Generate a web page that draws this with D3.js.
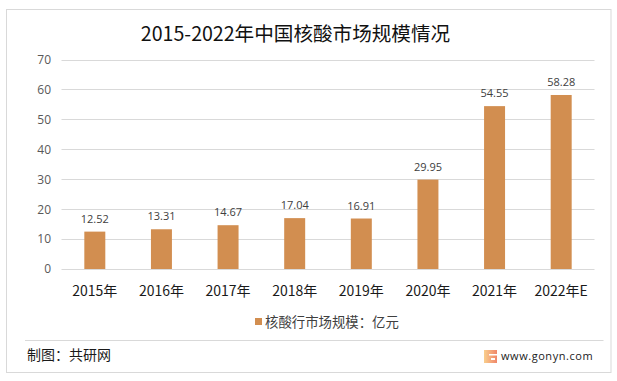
<!DOCTYPE html>
<html>
<head>
<meta charset="utf-8">
<script src="https://cdn.jsdelivr.net/npm/d3@7"></script>
<style>
  html, body { margin: 0; padding: 0; background: #fff; }
  svg { display: block; }
  text { font-family: "Noto Sans CJK SC", "Open Sans", sans-serif; }
</style>
</head>
<body>
<div id="svg-container"></div>
<script>
  var years = ['2015年', '2016年', '2017年', '2018年', '2019年', '2020年', '2021年', '2022年E'];
  var values = [12.52, 13.31, 14.67, 17.04, 16.91, 29.95, 54.55, 58.28];
  var yTicks = [0, 10, 20, 30, 40, 50, 60, 70];
  var titleText = '2015-2022年中国核酸市场规模情况';
  var legendText = '核酸行市场规模：亿元';
  var sourceText = '制图：共研网';
  var siteText = 'www.gonyn.com';

  var svg = d3.select('#svg-container').append('svg')
        .attr('width', 617)
        .attr('height', 381);

  // outer frame
  svg.append('rect')
    .attr('x', 6.5).attr('y', 9.5)
    .attr('width', 604.5).attr('height', 363)
    .attr('fill', '#fff')
    .attr('stroke', '#d9d9d9')
    .attr('stroke-width', 1);

  var x = d3.scaleBand()
        .domain(years)
        .range([61.5, 594.5])
        .paddingInner(0.685)
        .paddingOuter(0.3425);

  var y = d3.scaleLinear()
        .domain([0, 70])
        .range([269, 60]);

  // gridlines
  svg.append('g')
    .selectAll('line')
    .data(yTicks)
    .enter().append('line')
    .attr('x1', 61.5)
    .attr('x2', 594.5)
    .attr('y1', function (d) { return Math.floor(y(d)) + 0.5; })
    .attr('y2', function (d) { return Math.floor(y(d)) + 0.5; })
    .attr('stroke', '#d9d9d9');

  var yAxis = d3.axisLeft(y)
        .tickValues(yTicks)
        .tickSize(0)
        .tickPadding(0);

  svg.append('g')
    .attr('transform', 'translate(51,0)')
    .call(yAxis)
    .call(function (g) { g.select('.domain').remove(); })
    .selectAll('text')
    .attr('fill', '#595959')
    .style('font-size', '12px')
    .style('font-family', '"Open Sans", sans-serif');

  svg.append('g')
    .selectAll('rect')
    .data(values)
    .enter().append('rect')
    .attr('x', function (d, i) { return x(years[i]); })
    .attr('y', function (d) { return y(d); })
    .attr('width', x.bandwidth())
    .attr('height', function (d) { return y(0) - y(d); })
    .attr('fill', '#d28e50');

  svg.append('g')
    .selectAll('text')
    .data(values)
    .enter().append('text')
    .attr('x', function (d, i) { return x(years[i]) + x.bandwidth() / 2; })
    .attr('y', function (d) { return y(d) - 9; })
    .attr('text-anchor', 'middle')
    .attr('fill', '#404040')
    .style('font-size', '11px')
    .style('font-family', '"Open Sans", sans-serif')
    .text(function (d) { return d.toFixed(2); });

  var xAxis = d3.axisBottom(x)
        .tickSize(0)
        .tickPadding(0);

  svg.append('g')
    .attr('transform', 'translate(0,286)')
    .call(xAxis)
    .call(function (g) { g.select('.domain').remove(); })
    .selectAll('text')
    .attr('fill', '#1a1a1a')
    .style('font-size', '14px');

  svg.append('text')
    .attr('x', 295.5)
    .attr('y', 41)
    .attr('text-anchor', 'middle')
    .attr('fill', '#111')
    .style('font-size', '19.6px')
    .text(titleText);

  // legend
  svg.append('rect')
    .attr('x', 255).attr('y', 318)
    .attr('width', 7).attr('height', 7)
    .attr('fill', '#d28e50');

  svg.append('text')
    .attr('x', 265)
    .attr('y', 327)
    .attr('fill', '#404040')
    .style('font-size', '13.4px')
    .text(legendText);

  // footer
  svg.append('line')
    .attr('x1', 25).attr('x2', 603.5)
    .attr('y1', 340.5).attr('y2', 340.5)
    .attr('stroke', '#d9d9d9');

  svg.append('text')
    .attr('x', 27)
    .attr('y', 360)
    .attr('fill', '#1a1a1a')
    .style('font-size', '14px')
    .text(sourceText);

  // logo mark
  var logoGrad = svg.append('defs').append('linearGradient')
        .attr('id', 'logo-grad');
  logoGrad.append('stop').attr('offset', '0').attr('stop-color', '#f9cf8d');
  logoGrad.append('stop').attr('offset', '1').attr('stop-color', '#f0866a');

  svg.append('rect')
    .attr('x', 484).attr('y', 350)
    .attr('width', 13).attr('height', 13)
    .attr('fill', 'url(#logo-grad)');

  svg.append('path')
    .attr('d', 'M489 354h8v1.5h-8zM491 358h4v2h-4z')
    .attr('fill', '#fff');

  svg.append('text')
    .attr('x', 501)
    .attr('y', 360)
    .attr('fill', '#222')
    .style('font-size', '11px')
    .style('letter-spacing', '0.55px')
    .style('font-family', '"Open Sans", sans-serif')
    .text(siteText);
</script>
</body>
</html>
